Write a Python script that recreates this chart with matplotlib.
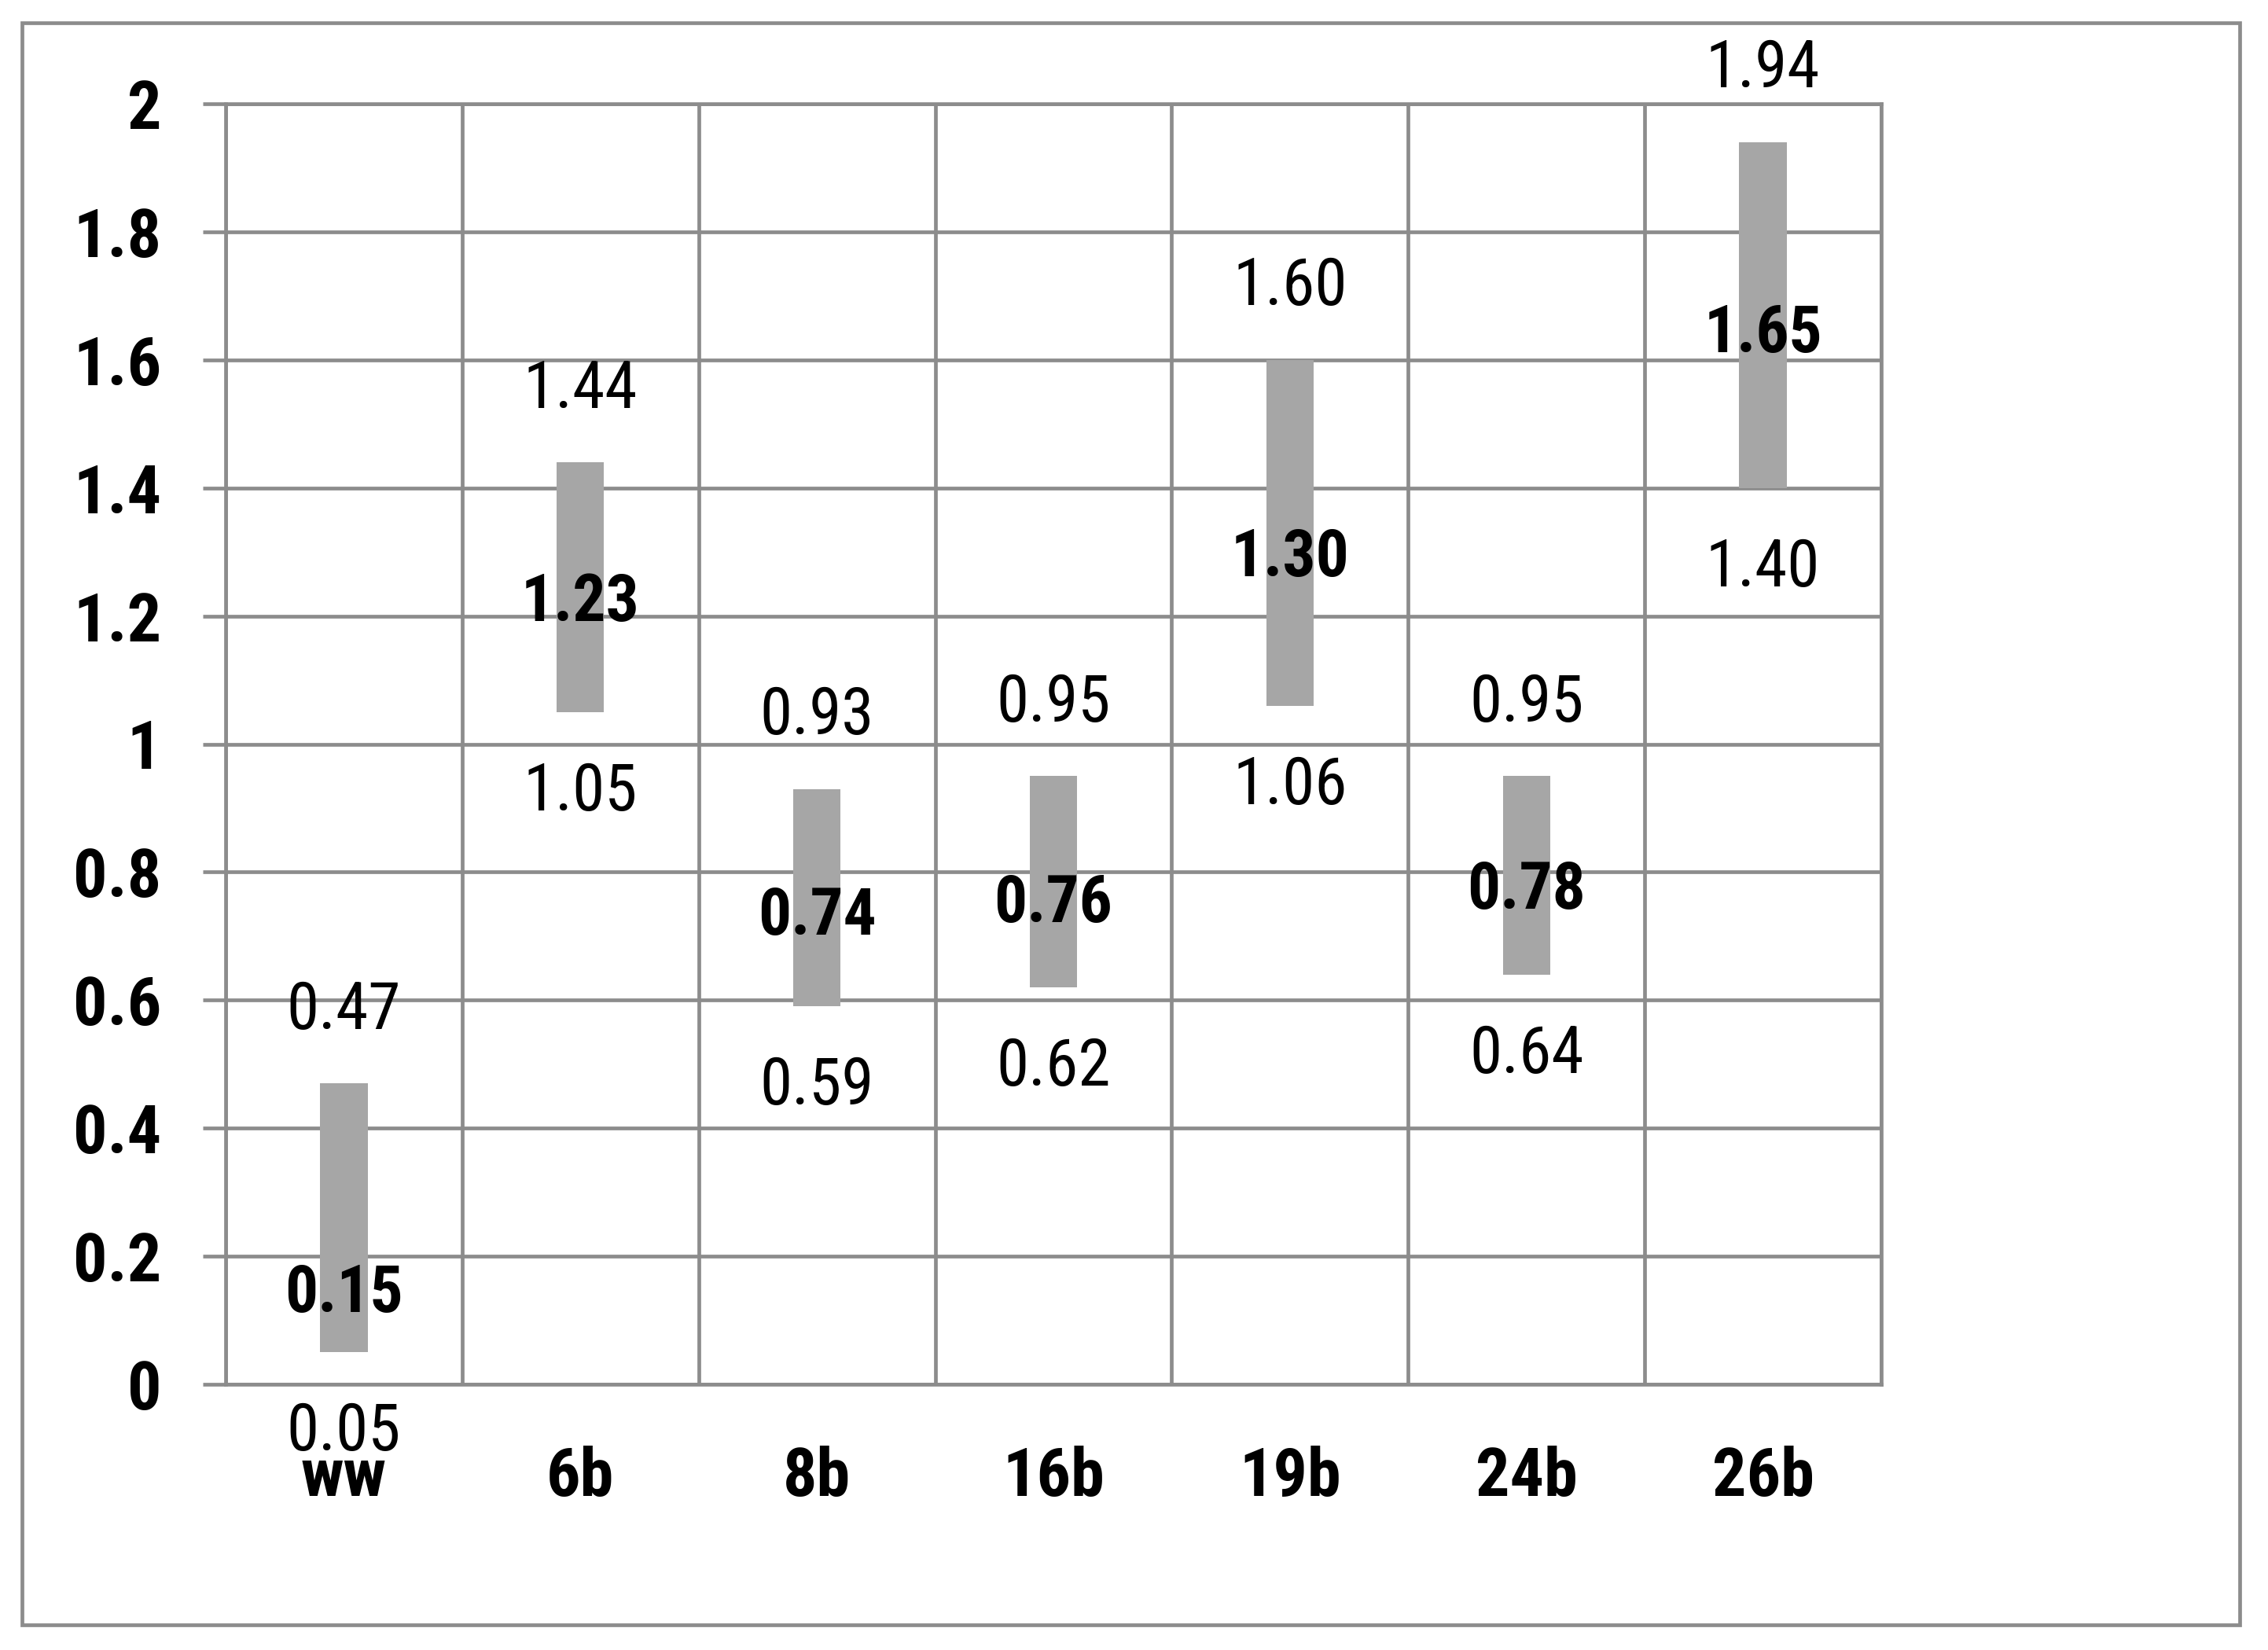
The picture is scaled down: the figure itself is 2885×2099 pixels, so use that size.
import numpy as np
import matplotlib
matplotlib.use("Agg")
import matplotlib.pyplot as plt
from matplotlib.patches import Rectangle
from matplotlib.ticker import FuncFormatter

plt.rcParams['font.family'] = ['Roboto Condensed', 'DejaVu Sans']

# data
groups = ['ww', '6b', '8b', '16b', '19b', '24b', '26b']
low = [0.05, 1.05, 0.59, 0.62, 1.06, 0.64, 1.40]
high = [0.47, 1.44, 0.93, 0.95, 1.60, 0.95, 1.94]
mean = [0.15, 1.23, 0.74, 0.76, 1.30, 0.78, 1.65]

GRID = '#8c8c8c'
BAR = '#a6a6a6'
FS = 30

fig = plt.figure(figsize=(14.425, 10.495), dpi=200)
ax = fig.add_axes([287/2885, 1-1761/2099, (2393-287)/2885, (1761-132)/2099])

x = np.arange(len(groups))
ax.bar(x, np.array(high) - np.array(low), bottom=low, width=0.2, color=BAR, zorder=3)

for xi, lo, hi, m in zip(x, low, high, mean):
    ax.annotate(f'{hi:.2f}', (xi, hi), xytext=(0, 25), textcoords='offset points',
                ha='center', va='baseline', fontsize=FS, zorder=5)
    ax.annotate(f'{lo:.2f}', (xi, lo), xytext=(0, -45), textcoords='offset points',
                ha='center', va='baseline', fontsize=FS, zorder=5)
    ax.annotate(f'{m:.2f}', (xi, m), xytext=(0, -11), textcoords='offset points',
                ha='center', va='baseline', fontsize=FS, fontweight='bold', zorder=5)

ax.set_xlim(-0.5, len(groups) - 0.5)
ax.set_ylim(0, 2)
ax.set_yticks(np.arange(0, 2.01, 0.2))
ax.yaxis.set_major_formatter(FuncFormatter(lambda v, p: f'{v:g}'))
ax.set_xticks(x)
ax.set_xticklabels(groups)
ax.set_xticks(np.arange(-0.5, len(groups)), minor=True)

ax.grid(axis='y', which='major', color=GRID, linewidth=1.7, zorder=1)
ax.grid(axis='x', which='minor', color=GRID, linewidth=1.7, zorder=1)
ax.set_axisbelow(True)
for s in ax.spines.values():
    s.set_color(GRID)
    s.set_linewidth(1.7)

ax.tick_params(axis='y', length=10.4, width=1.7, color=GRID, pad=19, labelsize=31)
ax.tick_params(axis='x', which='major', length=0, pad=28, labelsize=31)
ax.tick_params(axis='x', which='minor', length=0)
for lab in ax.get_xticklabels() + ax.get_yticklabels():
    lab.set_fontweight('bold')

fig.patches.append(Rectangle((28/2885, 1-2067/2099), (2849-28)/2885, (2067-29)/2099,
                             transform=fig.transFigure, fill=False, edgecolor=GRID,
                             linewidth=1.7))

fig.savefig('out.png', dpi=200)
